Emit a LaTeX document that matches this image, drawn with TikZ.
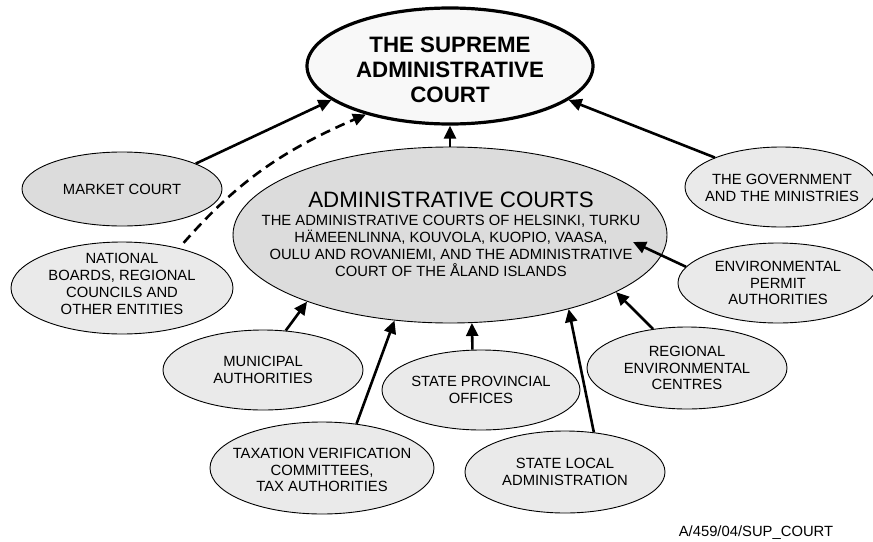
\documentclass[tikz,border=0pt]{standalone}
\usepackage{fontspec}
\setmainfont{Liberation Sans}
\usetikzlibrary{shapes.geometric}
\usetikzlibrary{arrows.meta, bending, positioning, calc}

\definecolor{palegrey}{HTML}{EAEAEA}
\definecolor{midgrey}{HTML}{DCDCDC}
\definecolor{supfill}{HTML}{F8F8F8}

\begin{document}
\begin{tikzpicture}[x=1pt, y=-1pt,
    court/.style={ellipse, draw, line width=0.9pt, fill=palegrey, inner sep=0pt},
    caption/.style={align=center, inner sep=0pt, font=\fontsize{14.8}{16.8}\selectfont},
    bigcaption/.style={align=center, inner sep=0pt, font=\fontsize{22.3}{25}\selectfont},
    appeal/.style={line width=2.6pt, -{Triangle[length=13pt, width=12pt]}}]
    \useasboundingbox (0,0) rectangle (873,541);

    % Nodes
    \node[court, fill=supfill, line width=3.2pt, minimum width=286pt, minimum height=116pt] (sup) at (450,66) {};
    \node[court, fill=midgrey, minimum width=434pt, minimum height=176pt] (adm) at (450,235) {};
    \node[court, fill=midgrey, minimum width=200pt, minimum height=74pt] (market) at (122,189) {};
    \node[court, minimum width=222pt, minimum height=92pt] (boards) at (122,288) {};
    \node[court, minimum width=200pt, minimum height=80pt] (muni) at (263,370) {};
    \node[court, minimum width=224pt, minimum height=92pt] (tax) at (322,468) {};
    \node[court, minimum width=198pt, minimum height=80pt] (prov) at (481,390) {};
    \node[court, minimum width=200pt, minimum height=82pt] (local) at (565,472) {};
    \node[court, minimum width=200pt, minimum height=82pt] (envc) at (687,368) {};
    \node[court, minimum width=200pt, minimum height=80pt] (permit) at (778,283) {};
    \node[court, minimum width=192pt, minimum height=80pt] (gov) at (781,187) {};
    \coordinate (permtip) at (633,242);

    % Texts
    \node[bigcaption, font=\fontsize{22.3}{25}\selectfont\bfseries] (sup-txt) at ($(sup)+(0,4)$) {THE SUPREME\\ADMINISTRATIVE\\COURT};
    \node[bigcaption] (adm-title) at (451,200) {ADMINISTRATIVE COURTS};
    \node[caption] (adm-txt) at (451,246) {THE ADMINISTRATIVE COURTS OF HELSINKI, TURKU\\
        HÄMEENLINNA, KOUVOLA, KUOPIO, VAASA,\\
        OULU AND ROVANIEMI, AND THE ADMINISTRATIVE\\
        COURT OF THE ÅLAND ISLANDS};
    \node[caption] (market-txt) at (market) {MARKET COURT};
    \node[caption] (boards-txt) at ($(boards)+(0,-4)$) {NATIONAL\\BOARDS, REGIONAL\\COUNCILS AND\\OTHER ENTITIES};
    \node[caption] (muni-txt) at (muni) {MUNICIPAL\\AUTHORITIES};
    \node[caption] (tax-txt) at ($(tax)+(0,2)$) {TAXATION VERIFICATION\\COMMITTEES,\\TAX AUTHORITIES};
    \node[caption] (prov-txt) at (prov) {STATE PROVINCIAL\\OFFICES};
    \node[caption] (local-txt) at (local) {STATE LOCAL\\ADMINISTRATION};
    \node[caption] (envc-txt) at (envc) {REGIONAL\\ENVIRONMENTAL\\CENTRES};
    \node[caption] (permit-txt) at (permit) {ENVIRONMENTAL\\PERMIT\\AUTHORITIES};
    \node[caption] (gov-txt) at ($(gov)+(1,1)$) {THE GOVERNMENT\\AND THE MINISTRIES};
    \node[caption] (ref) at (756,533) {A/459/04/SUP\_COURT};

    % Edges
    \draw[appeal] (market.19) -- (sup.196);
    \draw[appeal, dash pattern=on 10pt off 6pt, shorten <=7pt] (boards.35) to[bend left=13] (sup.210);
    \draw[appeal] (adm.90) -- (sup.270);
    \draw[appeal] (gov.156) -- (sup.344);

    \draw[appeal] (permit.170) -- (permtip);
    \draw[appeal] (envc.131) -- (adm.341);
    \draw[appeal] (local.54) -- (adm.328);
    \draw[appeal] (prov.102) -- (adm.284);
    \draw[appeal] (tax.52) -- (adm.237);
    \draw[appeal] (muni.60) -- (adm.205);

\end{tikzpicture}
\end{document}
